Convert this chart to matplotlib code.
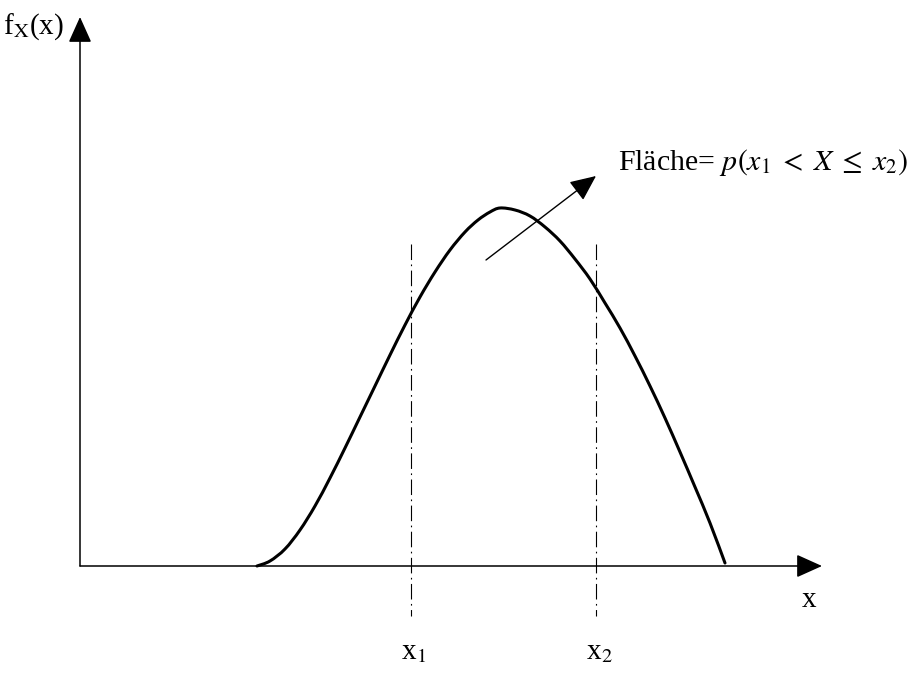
import numpy as np
import matplotlib
matplotlib.use("Agg")
from matplotlib import pyplot as plt
from matplotlib.path import Path
from matplotlib.patches import PathPatch, FancyArrowPatch

plt.rcParams['font.family'] = ['Liberation Serif', 'DejaVu Serif']
plt.rcParams['mathtext.fontset'] = 'stix'

# density curve f_X(x), points along the sketched curve
curve_x = [177, 190, 205, 220, 235, 250, 265, 280, 295, 310, 325, 340,
           355, 370, 385, 398, 410, 420, 435, 450, 465, 480, 495, 510,
           525, 540, 555, 570, 585, 600, 615, 630, 645]
curve_y = [0, 5, 17, 36, 60, 88, 118, 149, 180, 211, 241, 269,
           294, 316, 334, 346, 354, 358, 356, 350, 339, 325, 307, 287,
           263, 238, 210, 180, 148, 114, 79, 43, 3]

# interval bounds
x1 = 331
x2 = 516
bound_labels = [r'x$_1$', r'x$_2$']

# axis extents
x_axis_end = 742
y_axis_end = 549


def smooth_path(xs, ys):
    """Catmull-Rom through the points, written as cubic bezier segments."""
    p = np.column_stack([xs, ys]).astype(float)
    verts = [p[0]]
    codes = [Path.MOVETO]
    n = len(p)
    for i in range(n - 1):
        p0 = p[i - 1] if i > 0 else p[i]
        p1 = p[i]
        p2 = p[i + 1]
        p3 = p[i + 2] if i + 2 < n else p[i + 1]
        c1 = p1 + (p2 - p0) / 6.0
        c2 = p2 - (p3 - p1) / 6.0
        verts += [c1, c2, p2]
        codes += [Path.CURVE4] * 3
    return Path(verts, codes)


fig = plt.figure(figsize=(9.22, 6.75), dpi=100)
ax = fig.add_axes([0, 0, 1, 1])
ax.set_xlim(-80, 842)
ax.set_ylim(-109, 566)
ax.axis('off')

# axes with arrow heads
for end in [(x_axis_end, 0), (0, y_axis_end)]:
    ax.add_patch(FancyArrowPatch((0, 0), end, arrowstyle='-|>,head_length=10,head_width=4.5',
                                 mutation_scale=1.6, lw=1.1, color='black',
                                 shrinkA=0, shrinkB=0))

# the curve
ax.add_patch(PathPatch(smooth_path(curve_x, curve_y), fill=False, lw=2.2,
                       edgecolor='black', capstyle='round', joinstyle='round'))

# dash-dot bounds
for xb in [x1, x2]:
    ax.plot([xb, xb], [322, -50], color='black', lw=0.8,
            dashes=(14, 4, 1.5, 4))

# pointer to the area
ax.add_patch(FancyArrowPatch((406, 306), (516, 390),
                             arrowstyle='-|>,head_length=10,head_width=4.5',
                             mutation_scale=1.6, lw=1.0, color='black',
                             shrinkA=0, shrinkB=0))

ax.text(538, 403, r'Fläche= $p(x_1\;<\;X\;\leq\;x_2)$', fontsize=21.5,
        ha='left', va='center')
ax.text(-77, 539, r'f$_\mathrm{X}$(x)', fontsize=21, ha='left', va='center')
ax.text(729, -34, 'x', fontsize=21, ha='center', va='center')
for xb, lab in zip([x1, x2], bound_labels):
    ax.text(xb + 3, -86, lab, fontsize=21, ha='center', va='center')

fig.savefig('out.png', dpi=100)
